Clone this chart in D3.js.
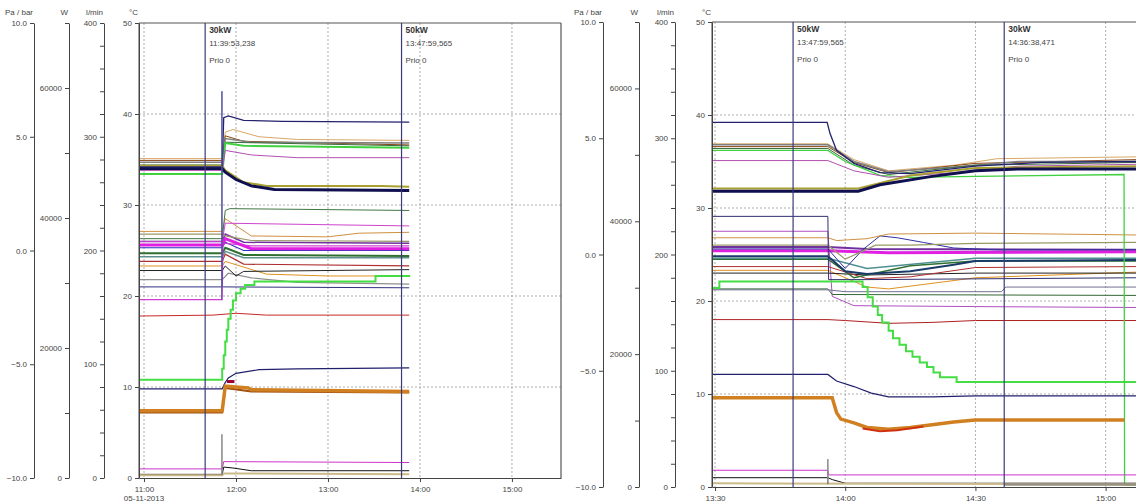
<!DOCTYPE html>
<html>
<head>
<meta charset="utf-8">
<script src="https://cdn.jsdelivr.net/npm/d3@7"></script>
<style>
body { margin: 0; background: #fff; }
text { font-family: "Liberation Sans", Arial, sans-serif; }
</style>
</head>
<body>
<div id="viz"></div>
<script>
// ---- left recording, 05-11-2013, ca. 10:57 - 13:53 ----
var left_navyTop   = [["10:56:44",34.2],["11:51:00",34.2],["11:52:00",39.6],["11:55:00",39.8],["12:05:00",39.3],["12:30:00",39.2],["13:53:00",39.1]];
var left_tan       = [["10:56:44",35.1],["11:51:00",35.1],["11:53:00",38.0],["11:58:00",38.3],["12:15:00",37.5],["12:40:00",37.2],["13:53:00",37.1]];
var left_gray      = [["10:56:44",34.7],["11:51:00",34.7],["11:53:00",37.3],["12:10:00",36.9],["13:53:00",36.8]];
var left_brown     = [["10:56:44",34.9],["11:51:00",34.9],["11:53:00",37.6],["12:05:00",37.0],["13:53:00",36.6]];
var left_green     = [["10:56:44",33.4],["11:51:00",33.4],["11:53:00",36.8],["12:05:00",36.5],["13:53:00",36.3]];
var left_dkgreen   = [["10:56:44",34.4],["11:51:00",34.4],["11:53:00",36.9],["13:53:00",36.5]];
var left_violet    = [["10:56:44",33.8],["11:51:00",33.8],["11:53:00",36.0],["12:10:00",35.5],["12:40:00",35.2],["13:53:00",35.2]];
var left_navyThick = [["10:56:44",34.0],["11:51:00",34.0],["11:53:00",33.6],["12:00:00",32.8],["12:10:00",32.1],["12:25:00",31.7],["13:53:00",31.6]];
var left_olive     = [["10:56:44",34.3],["11:51:00",34.3],["11:53:00",33.8],["12:05:00",32.5],["12:20:00",32.1],["13:35:00",32.1],["13:53:00",32.0]];

var left_green29   = [["10:56:44",26.3],["11:51:00",26.3],["11:53:00",29.4],["11:56:00",29.6],["13:53:00",29.4]];
var left_magenta28 = [["10:56:44",26.0],["11:51:00",26.0],["11:53:00",28.0],["13:53:00",27.7]];
var left_orange27  = [["10:56:44",27.1],["11:51:00",27.1],["11:53:00",28.5],["12:10:00",26.6],["13:00:00",26.5],["13:20:00",26.9],["13:53:00",27.0]];
var left_oliveN    = [["10:56:44",26.8],["11:51:00",26.8],["11:53:00",26.6],["12:10:00",26.1],["13:53:00",26.0]];
var left_purple    = [["10:56:44",26.0],["11:51:00",26.0],["11:53:00",26.8],["12:05:00",25.9],["13:53:00",25.8]];
var left_magThick  = [["10:56:44",25.6],["11:51:00",25.6],["11:53:00",26.3],["12:10:00",25.2],["13:53:00",25.2]];
var left_blue      = [["10:56:44",25.3],["11:51:00",25.3],["11:53:00",25.9],["12:05:00",25.0],["13:53:00",25.0]];
var left_green24   = [["10:56:44",24.7],["11:51:00",24.7],["11:53:00",25.3],["12:05:00",24.5],["13:53:00",24.4]];
var left_teal      = [["10:56:44",24.3],["11:51:00",24.3],["11:53:00",24.9],["12:05:00",24.2],["13:53:00",24.2]];
var left_red23     = [["10:56:44",23.8],["11:51:00",23.8],["11:53:00",24.6],["12:05:00",23.5],["13:53:00",23.3]];
var left_black23   = [["10:56:44",22.8],["11:51:00",22.8],["11:53:00",23.3],["12:00:00",22.2],["12:05:00",22.7],["13:53:00",22.9]];
var left_orange22  = [["10:56:44",23.3],["11:51:00",23.3],["11:53:00",23.8],["12:20:00",22.4],["13:00:00",22.2],["13:53:00",22.2]];
var left_gray21    = [["10:56:44",21.8],["11:51:00",21.8],["11:55:00",22.5],["12:10:00",22.0],["12:40:00",21.5],["13:53:00",21.3]];
var left_navy21    = [["10:56:44",21.0],["11:51:00",21.0],["13:53:00",20.9]];
var left_magLow    = [["10:56:44",19.6],["11:51:00",19.6],["11:51:30",25.8],["12:10:00",25.5],["13:53:00",25.5]];
var left_greenStep = [["10:56:44",10.8],["11:51:00",12.0],["11:52:00",13.5],["11:53:00",15.0],["11:54:00",16.3],["11:55:00",17.5],["11:56:30",18.5],["11:58:00",19.5],["12:00:00",20.3],["12:03:00",20.8],["12:06:00",21.2],["12:12:00",21.6],["13:31:00",22.2],["13:53:00",22.3]];

var left_red18     = [["10:56:44",17.8],["11:45:00",17.9],["12:00:00",18.1],["12:20:00",17.9],["13:53:00",17.9]];
var left_navy12    = [["10:56:44",9.8],["11:51:00",9.8],["11:53:00",10.5],["11:55:00",11.0],["12:00:00",11.5],["12:15:00",11.9],["12:40:00",12.0],["13:53:00",12.1]];
var left_orange10  = [["10:56:44",7.4],["11:51:00",7.4],["11:53:00",10.1],["12:00:00",10.0],["12:08:00",9.9],["12:10:00",9.7],["13:53:00",9.5]];
var left_brown10   = [["10:56:44",7.2],["11:51:00",7.2],["11:53:00",9.9],["12:10:00",9.5],["13:53:00",9.4]];
var left_maroon    = [["11:54:00",10.6],["11:59:00",10.6]];
var left_magenta2  = [["10:56:44",1.0],["11:51:00",1.0],["11:52:00",1.8],["13:53:00",1.7]];
var left_black1    = [["10:56:44",0.4],["11:51:00",0.4],["11:52:00",1.2],["11:58:00",1.1],["12:10:00",0.8],["13:53:00",0.8]];
var left_tan0      = [["10:56:44",0.3],["11:51:00",0.3],["11:52:00",0.5],["13:53:00",0.4]];
var left_spikeLow  = [["11:50:40",0.3],["11:50:50",4.8],["11:51:00",0.3]];
var left_spikeHigh = [["11:50:40",19.6],["11:50:50",42.5],["11:51:00",21.0]];

// ---- right recording, ca. 13:29 - 15:07 ----
var right_navyTop   = [["13:29:18",39.2],["13:55:50",39.2],["13:56:30",38.0],["13:58:00",36.2],["14:02:00",34.8],["14:08:00",33.8],["14:15:00",33.7],["14:30:00",34.5],["14:45:00",34.9],["15:07:00",35.0]];
var right_tan       = [["13:29:18",36.9],["13:56:00",36.9],["14:02:00",35.2],["14:10:00",34.0],["14:25:00",34.6],["14:35:00",35.3],["15:07:00",35.5]];
var right_gray      = [["13:29:18",36.8],["13:56:00",36.8],["14:02:00",35.0],["14:10:00",33.9],["14:25:00",34.4],["14:40:00",35.0],["15:07:00",35.0]];
var right_brown     = [["13:29:18",36.6],["13:56:00",36.6],["14:02:00",34.9],["14:10:00",33.8],["14:30:00",34.8],["15:07:00",35.2]];
var right_green     = [["13:29:18",36.2],["13:56:00",36.2],["14:00:00",35.0],["14:08:00",33.5],["14:15:00",33.3],["14:30:00",33.4],["15:04:15",33.6],["15:04:22",0.2],["15:07:00",0.2]];
var right_dkgreen   = [["13:29:18",36.4],["13:56:00",36.4],["14:02:00",34.6],["14:10:00",33.6],["14:30:00",34.6],["15:07:00",34.9]];
var right_violet    = [["13:29:18",35.1],["13:56:00",35.1],["14:02:00",34.0],["14:10:00",33.3],["14:25:00",33.8],["14:40:00",34.5],["15:07:00",34.7]];
var right_navyThick = [["13:29:18",31.8],["14:03:00",31.8],["14:08:00",32.5],["14:20:00",33.4],["14:30:00",34.0],["14:40:00",34.2],["15:07:00",34.2]];
var right_olive     = [["13:29:18",32.1],["14:03:00",32.1],["14:15:00",33.5],["14:30:00",34.3],["15:07:00",34.5]];

var right_navy29    = [["13:29:18",29.1],["13:56:00",29.1],["13:56:10",22.3],["14:05:00",22.3],["15:07:00",22.5]];
var right_magenta   = [["13:29:18",27.5],["13:56:00",27.5],["13:57:00",20.5],["14:02:00",19.5],["14:30:00",19.4],["15:07:00",19.3]];
var right_orange27  = [["13:29:18",26.8],["13:56:00",26.8],["13:58:00",26.5],["14:05:00",26.7],["14:10:00",27.2],["14:30:00",27.3],["15:07:00",27.1]];
var right_oliveN    = [["13:29:18",26.0],["13:56:00",26.0],["14:00:00",24.5],["14:07:00",26.0],["14:15:00",26.0],["14:30:00",26.2],["15:07:00",26.3]];
var right_navySq    = [["13:29:18",25.6],["13:56:00",25.6],["14:00:00",23.5],["14:04:00",25.5],["14:08:00",27.0],["14:12:00",26.8],["14:18:00",26.3],["14:25:00",25.7],["14:35:00",25.5],["15:07:00",25.5]];
var right_magThick  = [["13:29:18",25.4],["13:56:00",25.4],["14:10:00",25.2],["15:07:00",25.3]];
var right_purple    = [["13:29:18",25.8],["13:56:00",25.8],["14:05:00",25.6],["15:07:00",25.5]];
var right_blueThick = [["13:29:18",24.8],["13:56:00",24.8],["14:00:00",23.2],["14:05:00",22.9],["14:15:00",23.2],["14:25:00",23.9],["14:30:00",24.3],["15:07:00",24.4]];
var right_teal      = [["13:29:18",24.6],["13:56:00",24.6],["14:05:00",23.5],["14:30:00",24.6],["15:07:00",24.6]];
var right_green24   = [["13:29:18",24.5],["13:56:00",24.5],["14:02:00",22.5],["14:15:00",23.8],["14:30:00",24.3],["15:07:00",24.3]];
var right_red23     = [["13:29:18",23.7],["13:56:00",23.7],["14:05:00",22.4],["14:15:00",22.6],["14:30:00",23.6],["15:07:00",23.7]];
var right_black23   = [["13:29:18",23.0],["13:56:00",23.0],["14:05:00",22.8],["14:30:00",23.0],["15:07:00",23.0]];
var right_orange22  = [["13:29:18",23.3],["13:56:00",23.3],["14:05:00",21.5],["14:10:00",21.3],["14:30:00",22.5],["15:07:00",23.1]];
var right_gray21    = [["13:29:18",21.2],["13:56:00",21.2],["14:00:00",21.0],["14:36:00",21.0],["14:37:00",21.5],["15:07:00",21.5]];
var right_dkgreen21 = [["13:29:18",21.3],["13:56:00",21.3],["13:57:00",20.7],["15:07:00",20.6]];
var right_greenStep = [["13:29:18",21.4],["13:31:00",22.1],["14:04:00",21.5],["14:05:10",20.4],["14:06:20",19.4],["14:07:30",18.5],["14:08:30",17.7],["14:10:00",16.8],["14:11:00",16.0],["14:12:30",15.3],["14:14:00",14.6],["14:15:30",14.0],["14:17:10",13.4],["14:18:50",12.9],["14:20:20",12.3],["14:21:50",11.8],["14:25:40",11.3],["15:07:00",11.3]];

var right_red18     = [["13:29:18",18.0],["13:56:00",18.0],["14:00:00",17.9],["14:10:00",17.6],["14:20:00",17.7],["14:30:00",17.9],["15:07:00",17.9]];
var right_navy12    = [["13:29:18",12.1],["13:56:00",12.1],["13:58:00",11.4],["14:02:00",10.8],["14:06:00",10.1],["14:10:00",9.7],["14:20:00",9.7],["14:30:00",9.8],["15:07:00",9.8]];
var right_orange7   = [["13:29:18",9.6],["13:57:00",9.6],["13:58:00",8.0],["13:59:00",7.3],["14:02:00",6.9],["14:05:00",6.4],["14:10:00",6.2],["14:15:00",6.4],["14:20:00",6.7],["14:25:00",7.0],["14:30:00",7.2],["15:04:20",7.2]];
var right_red6      = [["14:04:00",6.3],["14:08:00",6.0],["14:12:00",6.1],["14:18:00",6.5]];
var right_magenta1  = [["13:29:18",1.8],["13:56:00",1.8],["13:56:10",1.3],["15:07:00",1.3]];
var right_black1    = [["13:29:18",1.0],["13:56:00",1.0],["13:57:00",0.8],["14:00:00",0.4],["15:07:00",0.4]];
var right_tan0      = [["13:29:18",0.4],["15:07:00",0.3]];
var right_gray0     = [["14:36:38",0.3],["15:07:00",0.3]];
var right_spike     = [["13:55:55",0.3],["13:56:00",3.0],["13:56:05",0.3]];

// axis tick values
var paTicks   = [-10, -5, 0, 5, 10];
var wTicks    = d3.range(0, 70001, 10000);
var wLabels   = [0, 20000, 40000, 60000];
var lpmTicks  = d3.range(0, 401, 20);
var lpmLabels = [0, 100, 200, 300, 400];
var degTicks  = [0, 10, 20, 30, 40, 50];

var leftHours  = ["11:00", "12:00", "13:00", "14:00", "15:00"];
var rightHours = ["13:30", "14:00", "14:30", "15:00"];

var leftEventTimes   = ["11:39:53", "13:47:59"];
var leftEventNames   = ["30kW", "50kW"];
var leftEventStamps  = ["11:39:53,238", "13:47:59,565"];
var rightEventTimes  = ["13:47:59", "14:36:38"];
var rightEventNames  = ["50kW", "30kW"];
var rightEventStamps = ["13:47:59,565", "14:36:38,471"];

// [data, colour, width, stepped]
var leftSeries = [
  [left_red18, "#c82828", 1],
  [left_navy21, "#303080", 1],
  [left_gray21, "#909090", 1.2],
  [left_orange22, "#e09020", 1],
  [left_black23, "#222222", 1],
  [left_red23, "#b03030", 1.2],
  [left_teal, "#5f8f8f", 1.5],
  [left_green24, "#2f6f2f", 2],
  [left_blue, "#3030c0", 1.2],
  [left_purple, "#7030a0", 1.5],
  [left_oliveN, "#999966", 1.2],
  [left_orange27, "#d09040", 1],
  [left_magenta28, "#cc44cc", 1],
  [left_green29, "#447744", 1],
  [left_magLow, "#d040d0", 1.2],
  [left_magThick, "#e020e0", 3],
  [left_greenStep, "#44dd44", 2, true],
  [left_tan, "#d8a868", 1],
  [left_brown, "#8b4513", 1],
  [left_gray, "#7f7f7f", 1.5],
  [left_dkgreen, "#3a6b3a", 1],
  [left_green, "#40d040", 2],
  [left_violet, "#b050b0", 1],
  [left_olive, "#a8a030", 2],
  [left_navyThick, "#101050", 3],
  [left_navyTop, "#22226e", 1.3],
  [left_navy12, "#202070", 1.2],
  [left_brown10, "#a05010", 2],
  [left_orange10, "#d08020", 3.5],
  [left_maroon, "#990033", 3],
  [left_magenta2, "#cc33cc", 1],
  [left_black1, "#111111", 1],
  [left_tan0, "#ccbb88", 2],
  [left_spikeLow, "#888888", 1],
  [left_spikeHigh, "#5050a0", 1]
];

var rightSeries = [
  [right_red18, "#b02020", 1],
  [right_magenta, "#b050c0", 1],
  [right_dkgreen21, "#336633", 1],
  [right_gray21, "#707090", 1],
  [right_orange22, "#e09020", 1],
  [right_black23, "#222222", 1],
  [right_red23, "#b03030", 1],
  [right_green24, "#2f6f2f", 1.5],
  [right_teal, "#4f8f8f", 1.5],
  [right_blueThick, "#1a3a6a", 2],
  [right_purple, "#7030a0", 2],
  [right_magThick, "#e020e0", 3],
  [right_navySq, "#3030a0", 1],
  [right_oliveN, "#999966", 1.2],
  [right_orange27, "#d09040", 1],
  [right_navy29, "#303070", 1],
  [right_greenStep, "#44dd44", 2, true],
  [right_tan, "#d8a868", 1],
  [right_brown, "#8b4513", 1],
  [right_gray, "#7f7f7f", 1.5],
  [right_dkgreen, "#3a6b3a", 1],
  [right_green, "#40d040", 1.3],
  [right_violet, "#b050b0", 1],
  [right_olive, "#a8a030", 2],
  [right_navyThick, "#101050", 3],
  [right_navyTop, "#22226e", 1.3],
  [right_navy12, "#202070", 1.2],
  [right_orange7, "#d08020", 3.5],
  [right_red6, "#d03010", 2],
  [right_magenta1, "#cc33cc", 1],
  [right_black1, "#111111", 1],
  [right_tan0, "#ccbb88", 2],
  [right_gray0, "#999080", 3],
  [right_spike, "#888888", 1]
];

var parseT = d3.timeParse("%H:%M:%S");
function t(s) { return parseT(s.length == 5 ? s + ":00" : s); }

var svg = d3.select("#viz")
  .append("svg")
  .attr("width", 1136)
  .attr("height", 502);

function panel(id, ax, x0, x1, yt, yb, domain, hours, hourFmt, series, evTimes, evNames, evStamps, dateLabel, rightFrame) {
  var g = svg.append("g");
  var x = d3.scaleTime().domain(domain.map(t)).range([x0, x1]);
  var y = d3.scaleLinear().domain([0, 50]).range([yb, yt]);

  // side axes
  var pa = d3.scaleLinear().domain([-10, 10]).range([yb, yt]);
  var w = d3.scaleLinear().domain([0, 70000]).range([yb, yt]);
  var lpm = d3.scaleLinear().domain([0, 400]).range([yb, yt]);

  var axes = [
    [ax[0], d3.axisLeft(pa).tickValues(paTicks).tickFormat(d3.format(".1f")), "Pa / bar"],
    [ax[1], d3.axisLeft(w).tickValues(wTicks).tickFormat(function(d) { return wLabels.indexOf(d) >= 0 ? d : ""; }), "W"],
    [ax[2], d3.axisLeft(lpm).tickValues(lpmTicks).tickFormat(function(d) { return lpmLabels.indexOf(d) >= 0 ? d : ""; }), "l/min"],
    [ax[3], d3.axisLeft(y).tickValues(degTicks), "°C"]
  ];
  axes.forEach(function(a) {
    var ag = g.append("g").attr("transform", "translate(" + a[0] + ",0)").call(a[1].tickSize(4).tickSizeOuter(0));
    ag.select(".domain").attr("stroke", "#444");
    ag.selectAll(".tick line").attr("stroke", "#444");
    ag.selectAll("text").attr("font-size", 8).attr("fill", "#444").attr("font-family", "Liberation Sans, Arial, sans-serif");
    g.append("text").attr("x", a[0] - 1).attr("y", 15).attr("text-anchor", "end")
      .attr("font-size", 8).attr("fill", "#444").text(a[2]);
  });

  // grid
  g.selectAll(".vg").data(hours).enter().append("line")
    .attr("x1", function(d) { return x(t(d)); }).attr("x2", function(d) { return x(t(d)); })
    .attr("y1", yt).attr("y2", yb)
    .attr("stroke", "#999").attr("stroke-dasharray", "2,2").attr("stroke-width", 0.8);
  g.selectAll(".hg").data([10, 20, 30, 40]).enter().append("line")
    .attr("x1", x0).attr("x2", x1)
    .attr("y1", function(d) { return y(d); }).attr("y2", function(d) { return y(d); })
    .attr("stroke", "#999").attr("stroke-dasharray", "2,2").attr("stroke-width", 0.8);
  g.append("line").attr("x1", x0).attr("x2", x1).attr("y1", yt).attr("y2", yt)
    .attr("stroke", "#555").attr("stroke-width", 1.2);
  if (rightFrame) {
    g.append("line").attr("x1", x1).attr("x2", x1).attr("y1", yt).attr("y2", yb)
      .attr("stroke", "#555").attr("stroke-width", 1.2);
  }

  // x axis
  var xa = g.append("g").attr("transform", "translate(0," + yb + ")")
    .call(d3.axisBottom(x).tickValues(hours.map(t)).tickFormat(d3.timeFormat(hourFmt)).tickSize(4).tickSizeOuter(0));
  xa.select(".domain").attr("stroke", "#444");
  xa.selectAll(".tick line").attr("stroke", "#444");
  xa.selectAll("text").attr("font-size", 8).attr("fill", "#444").attr("dy", "0.9em");
  if (dateLabel) {
    g.append("text").attr("x", x(t(hours[0]))).attr("y", yb + 23).attr("text-anchor", "middle")
      .attr("font-size", 8).attr("fill", "#444").text(dateLabel);
  }

  // data
  g.append("clipPath").attr("id", id).append("rect")
    .attr("x", x0 + 1).attr("y", yt).attr("width", x1 - x0 - 1).attr("height", yb - yt);
  var line = d3.line().x(function(d) { return x(t(d[0])); }).y(function(d) { return y(d[1]); });
  var stepLine = d3.line().curve(d3.curveStepAfter).x(function(d) { return x(t(d[0])); }).y(function(d) { return y(d[1]); });
  var lg = g.append("g").attr("clip-path", "url(#" + id + ")");
  series.forEach(function(s) {
    lg.append("path").attr("d", (s[3] ? stepLine : line)(s[0]))
      .attr("fill", "none").attr("stroke", s[1]).attr("stroke-width", s[2]);
  });

  // event markers
  evTimes.forEach(function(e, i) {
    var ex = x(t(e));
    g.append("line").attr("x1", ex).attr("x2", ex).attr("y1", yt).attr("y2", yb)
      .attr("stroke", "#3a3a78").attr("stroke-width", 1.2);
    g.append("text").attr("x", ex + 4).attr("y", yt + 10).attr("font-size", 8.5)
      .attr("font-weight", "bold").attr("font-family", "DejaVu Sans, sans-serif").attr("fill", "#333").text(evNames[i]);
    g.append("text").attr("x", ex + 4).attr("y", yt + 23).attr("font-size", 8)
      .attr("font-family", "DejaVu Sans, sans-serif").attr("fill", "#444").text(evStamps[i]);
    g.append("text").attr("x", ex + 4).attr("y", yt + 40).attr("font-size", 8)
      .attr("font-family", "DejaVu Sans, sans-serif").attr("fill", "#444").text("Prio 0");
  });

  // axis line of °C in front
  g.append("line").attr("x1", x0).attr("x2", x0).attr("y1", yt).attr("y2", yb).attr("stroke", "#444");
}

panel("clipL", [34, 69, 104, 139], 139, 561, 23, 478, ["10:56:44", "15:32:00"], leftHours, "%H:%M",
  leftSeries, leftEventTimes, leftEventNames, leftEventStamps, "05-11-2013", true);
panel("clipR", [603, 639, 675, 712], 712, 1136, 22, 487, ["13:29:18", "15:07:00"], rightHours, "%H:%M",
  rightSeries, rightEventTimes, rightEventNames, rightEventStamps, null, false);
</script>
</body>
</html>
